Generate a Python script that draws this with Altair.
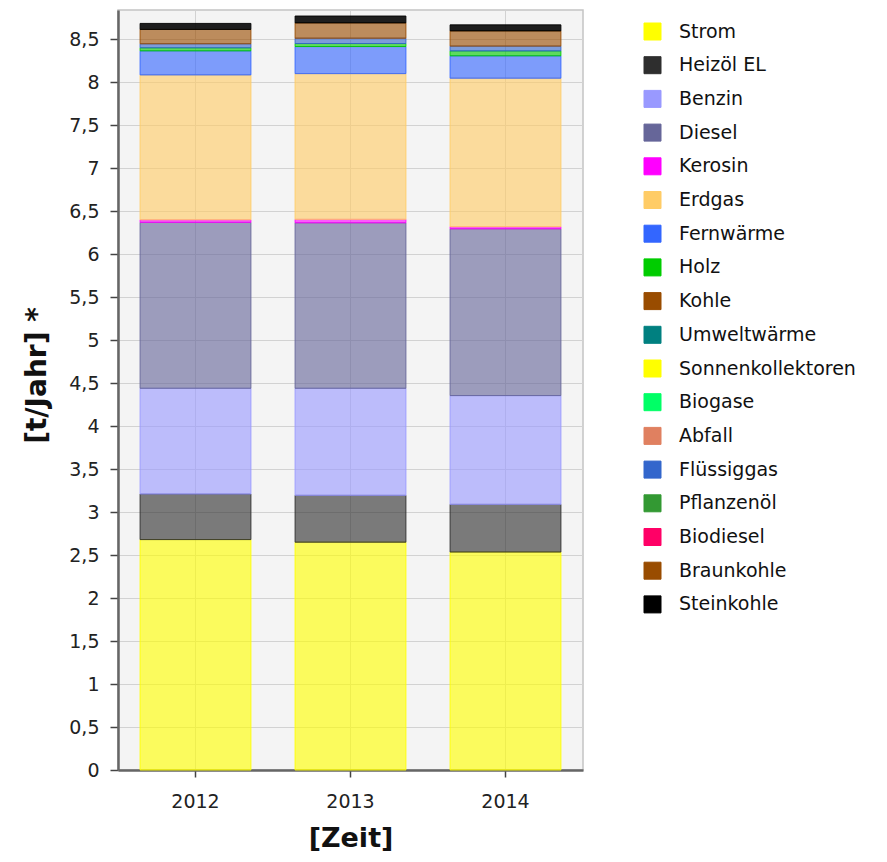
import altair as alt
import pandas as pd

years = ["2012", "2013", "2014"]
categories = ["Strom", "Heizöl EL", "Benzin", "Diesel", "Kerosin", "Erdgas",
              "Fernwärme", "Holz", "Kohle", "Umweltwärme", "Sonnenkollektoren",
              "Biogase", "Abfall", "Flüssiggas", "Pflanzenöl", "Biodiesel",
              "Braunkohle", "Steinkohle"]
colors = ["#ffff00", "#2e2e2e", "#9999ff", "#666699", "#ff00ff", "#ffcc66",
          "#3366ff", "#00cc00", "#994c00", "#008080", "#ffff00",
          "#00ff66", "#e08060", "#3366cc", "#339933", "#ff0066",
          "#994c00", "#000000"]
# values per category for 2012, 2013, 2014 (t/Jahr)
values = {
    "Strom":             [2.68, 2.65, 2.535],
    "Heizöl EL":         [0.53, 0.545, 0.555],
    "Benzin":            [1.23, 1.245, 1.265],
    "Diesel":            [1.93, 1.925, 1.94],
    "Kerosin":           [0.03, 0.04, 0.025],
    "Erdgas":            [1.685, 1.695, 1.727],
    "Fernwärme":         [0.28, 0.315, 0.26],
    "Holz":              [0.035, 0.035, 0.057],
    "Kohle":             [0.0, 0.0, 0.0],
    "Umweltwärme":       [0.0, 0.0, 0.0],
    "Sonnenkollektoren": [0.0, 0.0, 0.0],
    "Biogase":           [0.0, 0.0, 0.0],
    "Abfall":            [0.0, 0.0, 0.0],
    "Flüssiggas":        [0.047, 0.062, 0.056],
    "Pflanzenöl":        [0.0, 0.0, 0.0],
    "Biodiesel":         [0.0, 0.0, 0.0],
    "Braunkohle":        [0.167, 0.178, 0.177],
    "Steinkohle":        [0.07, 0.08, 0.07],
}
y_ticks = [i * 0.5 for i in range(18)]

rows = []
for idx, cat in enumerate(categories):
    for yi, yr in enumerate(years):
        v = values[cat][yi]
        if v > 0:
            rows.append({"Jahr": yr, "Energietraeger": cat, "Wert": v, "idx": idx})
df = pd.DataFrame(rows)

FONT = "DejaVu Sans"
scale = alt.Scale(domain=categories, range=colors)

chart = alt.Chart(df).mark_bar(strokeWidth=1, strokeOpacity=0.9).encode(
    x=alt.X("Jahr:N", sort=years,
            scale=alt.Scale(paddingInner=0.285, paddingOuter=0.1425),
            axis=alt.Axis(title="[Zeit]", labelAngle=0, labelFontSize=19,
                          labelPadding=15, tickSize=7, titlePadding=14,
                          titleFontSize=27, titleFontWeight="bold",
                          grid=True)),
    y=alt.Y("Wert:Q", stack="zero",
            scale=alt.Scale(domain=[0, 8.84], nice=False),
            axis=alt.Axis(title="[t/Jahr]  *", values=y_ticks,
                          labelExpr="replace(format(datum.value, '~g'), '.', ',')",
                          labelFontSize=19, labelPadding=11, tickSize=8,
                          titleFontSize=28, titleFontWeight="bold",
                          titlePadding=17, titleY=365, grid=True)),
    fill=alt.Fill("Energietraeger:N", scale=scale,
                  legend=alt.Legend(title=None, orient="none", legendX=525, legendY=12,
                                    symbolType="square", symbolSize=289,
                                    symbolStrokeColor="#999999", symbolStrokeWidth=1,
                                    symbolOpacity=1, labelFontSize=19,
                                    labelOffset=17, rowPadding=12.7, labelLimit=0,
                                    labelColor="#111111")),
    stroke=alt.Stroke("Energietraeger:N", scale=scale, legend=None),
    fillOpacity=alt.condition(alt.datum.Energietraeger == "Steinkohle",
                              alt.value(0.88), alt.value(0.62)),
    order=alt.Order("idx:Q", sort="ascending"),
).properties(
    width=465, height=760,
    autosize=alt.AutoSizeParams(type="none"),
    padding={"left": 110, "top": 2, "right": 290, "bottom": 84},
).configure_view(
    fill="#f4f4f4", stroke="#c4c4c4", strokeWidth=1.5
).configure_axis(
    labelFont=FONT, titleFont=FONT, labelColor="#222222", titleColor="#111111",
    gridColor="#d2d2d2", gridWidth=1, domainColor="#666666", domainWidth=2.5,
    tickColor="#444444", tickWidth=1.5
).configure_legend(
    labelFont=FONT
)

chart.save("out.html", embed_options={"renderer": "svg", "actions": False})
